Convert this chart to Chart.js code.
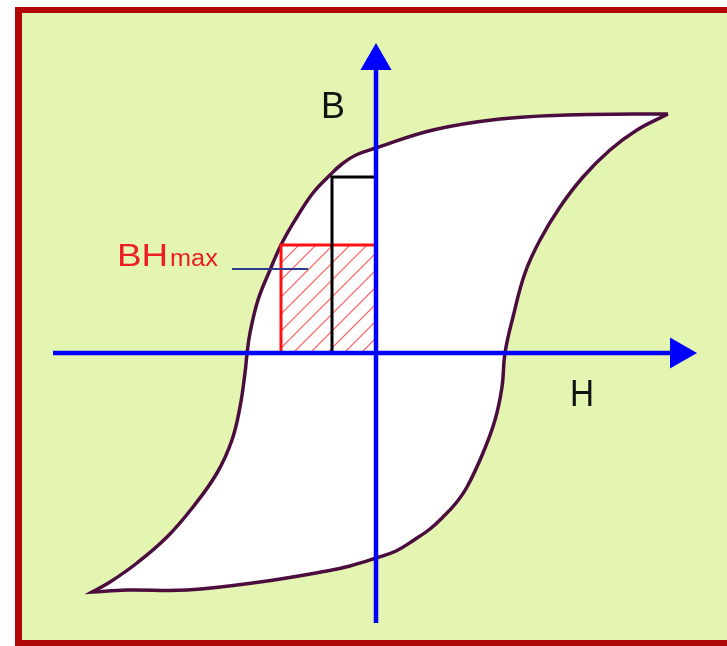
<!DOCTYPE html>
<html>
<head>
<meta charset="utf-8">
<script src="https://cdn.jsdelivr.net/npm/chart.js@4.4.1/dist/chart.umd.min.js"></script>
<style>
  html, body { margin:0; padding:0; background:#ffffff; overflow:hidden; width:727px; height:646px; }
  #frame { position:absolute; left:15px; top:7px; width:760px; height:639px; box-sizing:border-box;
           border:6px solid #b00808; border-left-width:7px; background:#e4f5b2; }
  #c { position:absolute; left:0; top:0; }
</style>
</head>
<body>
<div id="frame"></div>
<canvas id="c" width="727" height="646"></canvas>
<script>
// Hysteresis loop: upper (demagnetising) branch, right tip -> left tip
const upperH = [292,257,191,124,57,0,-20,-34,-46,-63,-79,-94,-106,-118,-126,-129,-131,-136,-144,-159,-183,-209,-239,-266,-284];
const upperB = [239,239,238,234,223,205,198,189,178,160,136,110,83,53,20,-1,-20,-54,-87,-120,-154,-184,-210,-229,-239];
// lower (magnetising) branch, left tip -> right tip
const lowerH = [-284,-249,-189,-116,-49,-26,0,20,38,54,67,80,91,107,119,126,129,137,149,164,184,207,234,261,292];
const lowerB = [-239,-237,-237,-229,-218,-213,-205,-198,-187,-176,-164,-150,-134,-100,-67,-34,0,36,80,113,146,176,203,223,239];
// working point rectangles
const bhMaxH = [-95,-95,0,0,-95];
const bhMaxB = [0,108,108,0,0];
const remH = [-44,-44,0];
const remB = [0,176,176];
// leader line of the BHmax label
const leaderH = [-144,-68];
const leaderB = [84,84];
// axes (end point carries the arrow head)
const axisHH = [-323,303];
const axisHB = [0,0];
const axisBH = [0,0];
const axisBB = [-270,292];
// text labels
const axisLabels = ['B','H'];
const bhLabel = ['BH','max'];

const pts = (xs, ys) => xs.map((x,i) => ({x:x, y:ys[i]}));

// hatch pattern for the BHmax area
function hatch() {
  const P = 17;
  const c = document.createElement('canvas');
  c.width = P; c.height = P;
  const g = c.getContext('2d');
  g.fillStyle = '#ffffff'; g.fillRect(0,0,P,P);
  g.strokeStyle = '#ff5a5a'; g.lineWidth = 1.2;
  g.beginPath();
  g.moveTo(0,P); g.lineTo(P,0);
  g.moveTo(-2,2); g.lineTo(2,-2);
  g.moveTo(P-2,P+2); g.lineTo(P+2,P-2);
  g.stroke();
  return g.createPattern(c,'repeat');
}

const textPlugin = {
  id:'texts',
  afterDatasetsDraw(chart) {
    const ctx = chart.ctx, xs = chart.scales.x, ys = chart.scales.y;
    const put = (t, h, b, font, color, sx) => {
      ctx.save();
      ctx.font = font; ctx.fillStyle = color; ctx.textBaseline = 'alphabetic'; ctx.textAlign = 'left';
      ctx.translate(xs.getPixelForValue(h), ys.getPixelForValue(b));
      ctx.scale(sx, 1);
      ctx.fillText(t, 0, 0);
      ctx.restore();
    };
    put(axisLabels[0], -55, 235, '37px "Liberation Sans", Arial, sans-serif', '#111111', 0.97);
    put(axisLabels[1], 194, -53, '37px "Liberation Sans", Arial, sans-serif', '#111111', 0.9);
    put(bhLabel[0], -259, 87, '32px "Liberation Sans", Arial, sans-serif', '#ee1c24', 1.15);
    put(bhLabel[1], -206, 87, '23px "Liberation Sans", Arial, sans-serif', '#ee1c24', 1.1);
  }
};

new Chart(document.getElementById('c'), {
  type:'scatter',
  data:{ datasets:[
    { label:'H axis', data:pts(axisHH, axisHB), showLine:true, borderColor:'#0000ff', borderWidth:4.5,
      pointStyle:'triangle', rotation:90, pointRadius:[0,18], pointBackgroundColor:'#0000ff', pointBorderWidth:0,
      tension:0, order:0, clip:false },
    { label:'B axis', data:pts(axisBH, axisBB), showLine:true, borderColor:'#0000ff', borderWidth:4.5,
      pointStyle:'triangle', rotation:0, pointRadius:[0,18], pointBackgroundColor:'#0000ff', pointBorderWidth:0,
      tension:0, order:0, clip:false },
    { label:'leader', data:pts(leaderH, leaderB), showLine:true, borderColor:'#2e3d8a', borderWidth:2,
      pointRadius:0, tension:0, order:1 },
    { label:'remanence', data:pts(remH, remB), showLine:true, borderColor:'#000000', borderWidth:3,
      pointRadius:0, tension:0, order:2 },
    { label:'BHmax', data:pts(bhMaxH, bhMaxB), showLine:true, borderColor:'#ff1010', borderWidth:3,
      backgroundColor:hatch(), fill:'shape', pointRadius:0, tension:0, order:3 },
    { label:'loop', data:pts(upperH.concat(lowerH), upperB.concat(lowerB)), showLine:true,
      borderColor:'#4a0d3e', borderWidth:3.5, backgroundColor:'#ffffff', fill:'shape',
      pointRadius:0, tension:0.4, order:4, clip:false }
  ]},
  options:{
    responsive:false, devicePixelRatio:1, animation:false,
    layout:{ padding:0, autoPadding:false },
    scales:{
      x:{ type:'linear', display:false, min:-376, max:351 },
      y:{ type:'linear', display:false, min:-293, max:353 }
    },
    plugins:{ legend:{display:false}, tooltip:{enabled:false} }
  },
  plugins:[textPlugin]
});
</script>
</body>
</html>
